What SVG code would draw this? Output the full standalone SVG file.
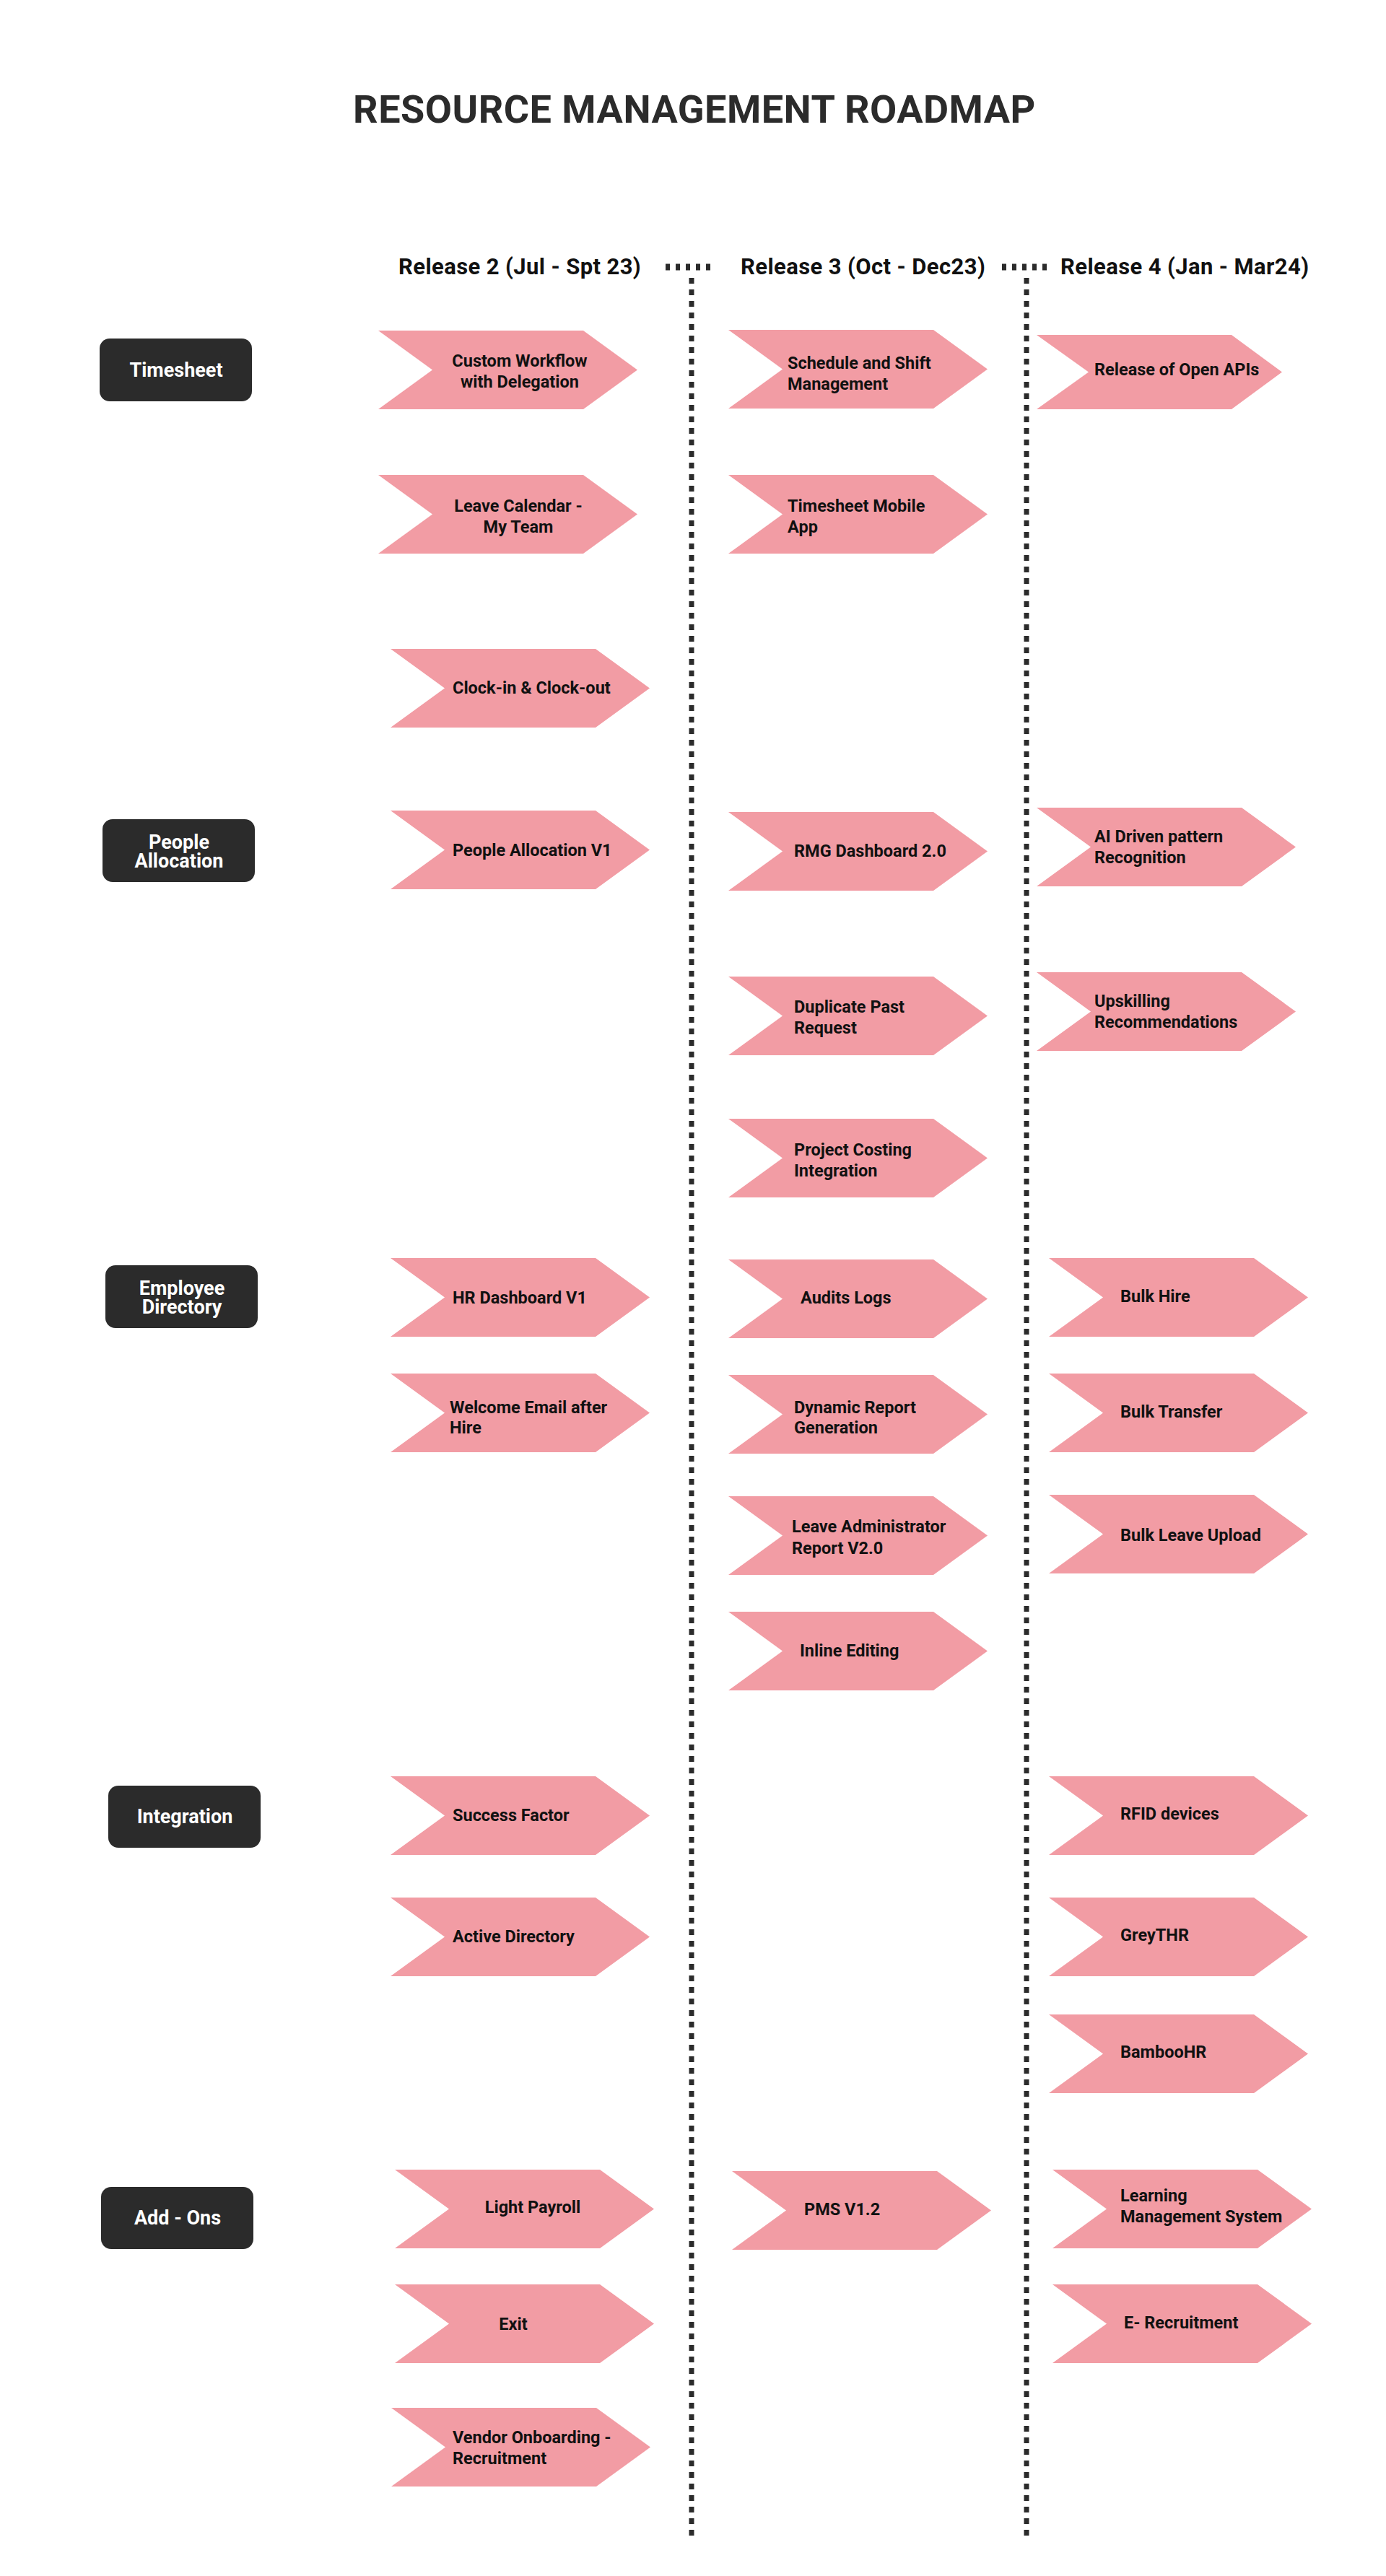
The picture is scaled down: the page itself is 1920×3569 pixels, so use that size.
<svg xmlns="http://www.w3.org/2000/svg" xmlns:xlink="http://www.w3.org/1999/xlink" width="1920" height="3569" viewBox="0 0 1920 3569">
<defs>
<style>
.bg{fill:#ffffff}
.chev{fill:#F29CA4}
.box{fill:#2B2B2B}
.t{font-family:Roboto,"Liberation Sans",sans-serif;font-weight:700;font-size:23.5px;fill:#111111}
.c{text-anchor:middle}
.bt{font-family:Roboto,"Liberation Sans",sans-serif;font-weight:700;font-size:27px;fill:#ffffff;text-anchor:middle}
.hd{font-family:Roboto,"Liberation Sans",sans-serif;font-weight:700;font-size:31px;fill:#111111;letter-spacing:0.4px}
.title{font-family:Roboto,"Liberation Sans",sans-serif;font-weight:700;font-size:54px;fill:#2B2B2B;letter-spacing:0.5px;text-anchor:middle}
.dot{stroke:#2B2B2B;stroke-width:7;stroke-dasharray:8 8;fill:none}
.hdot{stroke:#2B2B2B;stroke-width:9;stroke-dasharray:6 8;fill:none}
</style>
<polygon id="chev" points="0,0 284,0 359,54.5 284,109 0,109 75,54.5"/>
</defs>
<rect class="bg" x="0" y="0" width="1920" height="3569"/>
<text class="title" x="962" y="170">RESOURCE MANAGEMENT ROADMAP</text>

<g id="headers">
<text class="hd" x="552" y="380">Release 2 (Jul - Spt 23)</text>
<text class="hd" x="1026" y="380">Release 3 (Oct - Dec23)</text>
<text class="hd" x="1469" y="380">Release 4 (Jan - Mar24)</text>
</g>

<g id="connectors">
<line class="hdot" x1="922" y1="370" x2="992" y2="370"/>
<line class="hdot" x1="1388" y1="370" x2="1458" y2="370"/>
<line class="dot" x1="958" y1="385" x2="958" y2="3518"/>
<line class="dot" x1="1422" y1="385" x2="1422" y2="3518"/>
</g>

<g id="cat-timesheet"><rect class="box" x="138" y="469" width="211" height="87" rx="14"/><text class="bt" x="244" y="522">Timesheet</text></g>
<g id="cat-people"><rect class="box" x="142" y="1135" width="211" height="87" rx="14"/><text class="bt" x="248" y="1176">People</text><text class="bt" x="248" y="1202">Allocation</text></g>
<g id="cat-employee"><rect class="box" x="146" y="1753" width="211" height="87" rx="14"/><text class="bt" x="252" y="1794">Employee</text><text class="bt" x="252" y="1820">Directory</text></g>
<g id="cat-integration"><rect class="box" x="150" y="2474" width="211" height="86" rx="14"/><text class="bt" x="256" y="2526">Integration</text></g>
<g id="cat-addons"><rect class="box" x="140" y="3030" width="211" height="86" rx="14"/><text class="bt" x="246" y="3082">Add - Ons</text></g>

<g id="n-custom-workflow"><use xlink:href="#chev" href="#chev" class="chev" x="524" y="458"/><text class="t c" x="720" y="508">Custom Workflow</text><text class="t c" x="720" y="537">with Delegation</text></g>
<g id="n-leave-calendar"><use xlink:href="#chev" href="#chev" class="chev" x="524" y="658"/><text class="t c" x="718" y="709">Leave Calendar -</text><text class="t c" x="718" y="738">My Team</text></g>
<g id="n-clock"><use xlink:href="#chev" href="#chev" class="chev" x="541" y="899"/><text class="t" x="627" y="961">Clock-in &amp; Clock-out</text></g>
<g id="n-people-v1"><use xlink:href="#chev" href="#chev" class="chev" x="541" y="1123"/><text class="t" x="627" y="1186">People Allocation V1</text></g>
<g id="n-hr-dashboard"><use xlink:href="#chev" href="#chev" class="chev" x="541" y="1743"/><text class="t" x="627" y="1806">HR Dashboard V1</text></g>
<g id="n-welcome"><use xlink:href="#chev" href="#chev" class="chev" x="541" y="1903"/><text class="t" x="623" y="1958">Welcome Email after</text><text class="t" x="623" y="1986">Hire</text></g>
<g id="n-success"><use xlink:href="#chev" href="#chev" class="chev" x="541" y="2461"/><text class="t" x="627" y="2523">Success Factor</text></g>
<g id="n-active"><use xlink:href="#chev" href="#chev" class="chev" x="541" y="2629"/><text class="t" x="627" y="2691">Active Directory</text></g>
<g id="n-light-payroll"><use xlink:href="#chev" href="#chev" class="chev" x="547" y="3006"/><text class="t c" x="738" y="3066">Light Payroll</text></g>
<g id="n-exit"><use xlink:href="#chev" href="#chev" class="chev" x="547" y="3165"/><text class="t c" x="711" y="3228">Exit</text></g>
<g id="n-vendor"><use xlink:href="#chev" href="#chev" class="chev" x="542" y="3336"/><text class="t" x="627" y="3385">Vendor Onboarding -</text><text class="t" x="627" y="3414">Recruitment</text></g>

<g id="n-schedule"><use xlink:href="#chev" href="#chev" class="chev" x="1009" y="457"/><text class="t" x="1091" y="511">Schedule and Shift</text><text class="t" x="1091" y="540">Management</text></g>
<g id="n-mobile"><use xlink:href="#chev" href="#chev" class="chev" x="1009" y="658"/><text class="t" x="1091" y="709">Timesheet Mobile</text><text class="t" x="1091" y="738">App</text></g>
<g id="n-rmg"><use xlink:href="#chev" href="#chev" class="chev" x="1009" y="1125"/><text class="t" x="1100" y="1187">RMG Dashboard 2.0</text></g>
<g id="n-duplicate"><use xlink:href="#chev" href="#chev" class="chev" x="1009" y="1353"/><text class="t" x="1100" y="1403">Duplicate Past</text><text class="t" x="1100" y="1432">Request</text></g>
<g id="n-costing"><use xlink:href="#chev" href="#chev" class="chev" x="1009" y="1550"/><text class="t" x="1100" y="1601">Project Costing</text><text class="t" x="1100" y="1630">Integration</text></g>
<g id="n-audits"><use xlink:href="#chev" href="#chev" class="chev" x="1009" y="1745"/><text class="t" x="1109" y="1806">Audits Logs</text></g>
<g id="n-dynamic"><use xlink:href="#chev" href="#chev" class="chev" x="1009" y="1905"/><text class="t" x="1100" y="1958">Dynamic Report</text><text class="t" x="1100" y="1986">Generation</text></g>
<g id="n-leave-admin"><use xlink:href="#chev" href="#chev" class="chev" x="1009" y="2073"/><text class="t" x="1097" y="2123">Leave Administrator</text><text class="t" x="1097" y="2153">Report V2.0</text></g>
<g id="n-inline"><use xlink:href="#chev" href="#chev" class="chev" x="1009" y="2233"/><text class="t" x="1108" y="2295">Inline Editing</text></g>
<g id="n-pms"><use xlink:href="#chev" href="#chev" class="chev" x="1014" y="3008"/><text class="t" x="1114" y="3069">PMS V1.2</text></g>

<g id="n-open-apis"><polygon class="chev" points="1436,464 1706,464 1776,515.5 1706,567 1436,567 1508,515.5"/><text class="t" x="1516" y="520">Release of Open APIs</text></g>
<g id="n-ai"><use xlink:href="#chev" href="#chev" class="chev" x="1436" y="1119"/><text class="t" x="1516" y="1167">AI Driven pattern</text><text class="t" x="1516" y="1196">Recognition</text></g>
<g id="n-upskilling"><use xlink:href="#chev" href="#chev" class="chev" x="1436" y="1347"/><text class="t" x="1516" y="1395">Upskilling</text><text class="t" x="1516" y="1424">Recommendations</text></g>
<g id="n-bulk-hire"><use xlink:href="#chev" href="#chev" class="chev" x="1453" y="1743"/><text class="t" x="1552" y="1804">Bulk Hire</text></g>
<g id="n-bulk-transfer"><use xlink:href="#chev" href="#chev" class="chev" x="1453" y="1903"/><text class="t" x="1552" y="1964">Bulk Transfer</text></g>
<g id="n-bulk-leave"><use xlink:href="#chev" href="#chev" class="chev" x="1453" y="2071"/><text class="t" x="1552" y="2135">Bulk Leave Upload</text></g>
<g id="n-rfid"><use xlink:href="#chev" href="#chev" class="chev" x="1453" y="2461"/><text class="t" x="1552" y="2521">RFID devices</text></g>
<g id="n-greythr"><use xlink:href="#chev" href="#chev" class="chev" x="1453" y="2629"/><text class="t" x="1552" y="2689">GreyTHR</text></g>
<g id="n-bamboo"><use xlink:href="#chev" href="#chev" class="chev" x="1453" y="2791"/><text class="t" x="1552" y="2851">BambooHR</text></g>
<g id="n-lms"><use xlink:href="#chev" href="#chev" class="chev" x="1458" y="3006"/><text class="t" x="1552" y="3050">Learning</text><text class="t" x="1552" y="3079">Management System</text></g>
<g id="n-erecruit"><use xlink:href="#chev" href="#chev" class="chev" x="1458" y="3165"/><text class="t" x="1557" y="3226">E- Recruitment</text></g>
</svg>
